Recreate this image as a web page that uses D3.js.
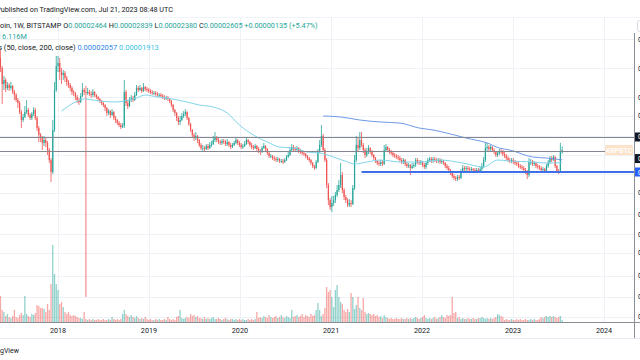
<!DOCTYPE html>
<html><head><meta charset="utf-8">
<script src="https://cdn.jsdelivr.net/npm/d3@7"></script>
<style>html,body{margin:0;padding:0;background:#fff;overflow:hidden}svg{display:block}</style>
</head><body><svg id="c" width="640" height="360"></svg>
<script>
// ---------- DATA (prices in satoshis = 1e-8 BTC, volume in millions) ----------
const firstWeek = "2017-05-15";
const firstOpen = 24220;
const closes = [
19010,12890,14210,11710,12590,11710,12290,10620,9880,8750,
8140,6540,5390,5800,6540,6870,6085,5660,6230,6870,
5660,4440,3746,3480,3090,3319,3090,2605,2044,1528,
4230,11150,19960,21460,17250,16050,16840,14920,13540,12590,
11710,10620,10370,9410,8750,8340,9640,11150,10620,10370,
10620,10120,9880,10620,9880,9410,8970,8540,8140,7750,
7210,6390,6700,6085,6540,5660,5390,5010,4775,4550,
4660,10620,8140,7560,8750,9190,8750,9880,11710,11150,
11710,10880,11990,11420,11150,10880,10620,10370,10370,10120,
9880,9880,9640,9410,9190,9190,8970,8540,7750,6870,
6390,5660,5130,5390,5940,6230,6540,5660,4890,4230,
3746,3480,3660,3319,2940,2730,2730,2670,2870,2730,
2940,3010,3319,3480,3319,3160,3090,3240,3160,3010,
3160,2940,2800,2940,3090,3319,3090,2940,2800,2870,
3010,3319,3160,2940,2800,2730,2870,2670,2540,2480,
2730,2870,2670,2420,2250,2250,2145,2095,2044,2095,
1995,1995,1947,2044,2200,2307,2605,2800,2670,2605,
2730,2540,2480,2420,2360,2250,2145,2044,1900,1768,
1684,1947,2480,2940,3660,2605,2044,1115,775,654,
721,775,875,988,1115,1421,988,833,775,686,
721,703,1037,2044,2940,2730,3319,2940,2605,2307,
2480,2730,2480,2307,2145,1995,1900,1855,1947,1855,
2605,2800,2605,2480,2420,2307,2250,2200,2145,2044,
1947,2044,1855,1768,1811,1684,1768,1811,2044,1947,
1900,1947,1811,1725,1900,2044,2095,1995,2095,2044,
1995,2044,1947,1995,1900,1768,1684,1604,1491,1387,
1321,1290,1354,1321,1528,1684,1643,1684,1643,1604,
1643,1604,1566,1604,1566,1643,1768,2044,2730,2800,
2670,2800,2605,2480,2307,2420,2540,2480,2360,2250,
2145,2044,1995,2044,1947,1900,1855,1768,1725,1684,
1604,1528,1421,1947,1947,1855,1900,1768,1725,1684,
1604,1643,1566,1768,1947,2145,2044,2200,1768,1566,
1528,2464,2605];
const highs = [
29400,19960,15660,14920,13540,13210,13540,12590,11150,10370,
9190,8540,6870,6230,7560,8750,7210,6390,6540,7380,
7210,5940,4660,3930,3660,3660,3480,3240,2730,2145,
5390,13540,25420,25420,24220,19010,18110,17680,15660,14210,
13210,12290,11150,10620,9880,9190,10370,13210,11710,12290,
11710,11150,10880,11420,10880,10120,9640,9190,8750,8340,
7940,7380,7030,6870,7030,6700,5940,5520,5260,5010,
5010,14210,11150,8750,9410,9880,9640,10620,12590,12290,
12590,11990,13210,12290,11990,11710,11420,11150,10880,10880,
10620,10370,10370,10120,9880,9640,9640,9190,8750,7940,
7030,6540,5940,5940,6390,6700,7030,6700,5800,5010,
4330,3930,4030,3746,3400,3090,2940,2870,3010,3010,
3160,3240,3660,4030,3660,3480,3319,3400,3400,3319,
3400,3240,3090,3090,3240,3570,3400,3240,3090,3010,
3240,3570,3400,3240,3090,2940,3010,2940,2800,2670,
2870,3090,2940,2730,2480,2360,2307,2250,2200,2200,
2145,2095,2095,2145,2307,2480,2800,3010,2940,2800,
2870,2800,2670,2605,2540,2420,2307,2200,2095,1947,
1811,2044,2670,3319,4775,3840,2730,2145,1170,813,
854,854,941,1115,1259,1900,1528,1037,875,813,
794,775,1115,2307,3660,3480,4030,4030,3090,2730,
2730,2940,2800,2605,2360,2200,2044,1995,2044,2044,
2940,3010,2870,2730,2605,2540,2420,2360,2307,2250,
2145,2145,2095,1947,1900,1855,1900,1900,2145,2145,
2044,2044,1995,1900,1995,2145,2200,2200,2200,2200,
2145,2145,2145,2095,2044,1947,1855,1768,1643,1528,
1456,1387,1421,1421,1643,1811,1768,1768,1768,1725,
1725,1684,1684,1684,1684,1725,1900,2200,3090,3090,
2940,2940,2870,2730,2540,2540,2670,2670,2605,2480,
2360,2250,2145,2145,2145,2044,1995,1947,1855,1811,
1768,1684,1604,2145,2095,2044,1995,1947,1855,1811,
1768,1725,1684,1855,2044,2250,2250,2307,2250,1811,
1643,3100,2839];
const lows = [
17250,7940,11150,10620,11150,10880,11150,10120,8750,8340,
7210,6230,4440,5130,5660,6230,5800,5390,5390,5940,
5390,4130,3160,3160,2605,2870,2800,2307,1900,1199,
1456,4030,10620,17250,14210,12890,14210,13540,12290,11710,
10880,9880,9640,8750,8140,7750,8140,9410,9880,74,
9880,9640,9190,9410,9410,8970,8540,8140,7750,7380,
6700,5940,6085,5660,5940,5390,5010,4775,4550,4330,
4440,4440,7560,7030,7380,8340,8340,8540,9640,10620,
10880,10370,10620,10880,10620,10370,10120,9880,9880,9640,
9410,9410,9190,8970,8750,8750,8540,8140,7380,6540,
5940,5260,4775,4775,5260,5660,5940,5390,4660,4030,
3480,3240,3319,3090,2800,2605,2540,2540,2605,2605,
2670,2800,2940,3160,3160,3010,2940,2940,3010,2870,
2870,2800,2670,2730,2870,3010,2940,2800,2670,2670,
2800,2940,3010,2800,2670,2605,2670,2540,2420,2307,
2420,2670,2540,2307,2145,2145,2044,1995,1947,1947,
1900,1900,1855,1900,1995,2145,2250,2540,2540,2480,
2540,2420,2360,2307,2250,2145,2044,1947,1811,1684,
1604,1643,1900,2420,2800,2480,1947,1037,686,608,
579,670,721,833,941,1037,918,775,721,654,
654,654,686,988,1947,2480,2605,2800,2420,2145,
2200,2360,2360,2200,2044,1900,1811,1768,1768,1768,
1811,2480,2480,2360,2307,2200,2145,2095,2044,1947,
1855,1855,1768,1684,1684,1421,1643,1684,1725,1855,
1811,1811,1725,1643,1643,1811,1947,1900,1900,1947,
1900,1900,1855,1855,1811,1684,1604,1528,1421,1321,
1259,1229,1229,1259,1290,1491,1566,1566,1566,1528,
1528,1528,1491,1491,1491,1491,1566,1684,1947,2540,
2540,2540,2480,2360,2200,2200,2307,2360,2250,2145,
2044,1947,1900,1900,1855,1811,1768,1684,1643,1604,
1528,1456,1290,1354,1811,1768,1768,1684,1643,1604,
1528,1528,1491,1528,1684,1855,1947,1995,1684,1491,
1456,1500,2380];
const volumes = [
78,36,30,18,24,15,12,18,36,15, 12,21,27,21,78,24,18,15,24,21,
27,51,48,42,42,39,30,54,36,114, 231,144,114,96,54,60,45,30,24,30,
21,18,21,18,15,12,12,9,30,9, 6,9,6,9,6,6,9,6,6,9,
6,6,9,6,15,9,6,9,6,9, 24,36,24,18,15,21,15,12,18,12,
9,12,9,15,9,6,9,6,6,9, 6,9,6,6,9,6,15,9,6,9,
6,15,18,36,12,9,12,15,12,24, 18,21,15,18,12,12,9,15,9,12,
9,12,15,9,9,12,9,6,9,12, 9,6,9,9,6,9,6,9,6,9,
6,6,9,6,9,6,9,30,12,15, 12,18,15,12,21,15,12,15,18,12,
15,21,15,12,18,15,12,36,15,18, 21,15,18,24,15,21,18,15,24,18,
21,36,57,36,18,24,42,105,90,96, 75,45,96,111,75,60,54,36,30,39,
30,87,75,39,51,75,42,36,72,30, 24,27,24,21,24,18,21,15,18,12,
21,15,12,9,12,9,9,12,9,9, 12,9,9,12,9,12,9,12,15,12,
9,12,15,21,12,9,12,9,12,15, 9,12,15,21,15,12,21,18,21,75,
27,30,12,15,9,12,9,9,12,9, 9,12,9,9,12,12,15,12,9,12,
9,12,9,12,15,24,21,18,15,6, 9,6,6,9,6,6,9,6,9,6,
6,9,6,6,9,6,9,6,6,9, 15,12,15,18,15,18,15,18,15,12,
15,18,6.116];
// moving averages (week index, value)
const ma50Idx = [35,43,48,57,66,71,78,83,90,95,107,114,122,130,137,145,153,160,168,176,183,191,199,203,210,218,229,240,252,265,277,285,292,305,313,322];
const ma50Val = [6700,8340,8970,8540,8340,8540,9190,9880,9410,9190,8340,7750,7380,6390,4775,3746,3160,2800,2730,2480,2420,2200,1947,1855,1947,2044,1947,1947,2044,1900,1725,2044,1995,1947,1900,1913];
const ma200Idx = [185,195,206,218,229,240,248,258,267,279,286,292,305,313,322];
const ma200Val = [5940,5800,5390,5130,5010,4440,4230,3840,3480,3090,2730,2605,2200,2145,2057];
// drawn levels
const greyLevels = [3570, 2570];
const supportLevel = 1528;
const supportFrom = "2021-05-03";
// axes
const yearTicks = ["2018","2019","2020","2021","2022","2023","2024"];
const priceTicks = [38000,19000,9400,6000,3700,2300,1450,920,550,340,215,123,74,46];
// legend texts
const titleText = "Published on TradingView.com, Jul 21, 2023 08:48 UTC";
const ohlcPieces = [["XRP / Bitcoin, 1W, BITSTAMP ","d"],["O","d"],["0.00002464 ","g"],["H","d"],["0.00002839 ","g"],["L","d"],["0.00002380 ","g"],["C","d"],["0.00002605 ","g"],["+0.00000135 (+5.47%)","g"]];
const volPieces = [["Vol ","d"],["6.116M","g"]];
const maPieces = [["MA Cross (50, close, 200, close) ","d"],["0.00002057 ","b"],["0.00001913","c"]];

// ---------- RENDER ----------
const FONT = "Roboto, 'Noto Sans', sans-serif";
const COL = {d:"#131722", g:"#26a69a", b:"#2f86e8", c:"#3cc3e3"};
const UP = "#26a69a", DOWN = "#ef5350";
const W = 640, H = 360, PR = 634, PT = 17, PB = 322;

const svg = d3.select("#c");
const parse = d3.utcParse("%Y-%m-%d");
const t0 = parse(firstWeek);
const n = Math.min(closes.length, highs.length, lows.length);
const data = d3.range(n).map(i => ({
  date: d3.utcDay.offset(t0, 7*i),
  o: i === 0 ? firstOpen : closes[i-1], c: closes[i], h: highs[i], l: lows[i],
  v: volumes[i] || 0
}));

const x = d3.scaleUtc().domain([parse("2018-01-01"), parse("2024-01-01")]).range([58, 604]);
const y = d3.scaleLog().domain([2605, 26050]).range([150, 55]);
const yv = d3.scaleLinear().domain([0, 300]).range([PB, PB - 100]);
const xi = i => x(d3.utcDay.offset(t0, 7*i));

svg.append("rect").attr("width", W).attr("height", H).attr("fill", "#fff");
const defs = svg.append("defs");
defs.append("clipPath").attr("id","plot").append("rect").attr("x",0).attr("y",PT).attr("width",PR).attr("height",PB-PT);

// grid
const grid = svg.append("g").attr("stroke", "#eef1f6").attr("stroke-width", 1);
grid.selectAll("line.h").data(priceTicks).join("line")
  .attr("x1", 0).attr("x2", PR).attr("y1", d => Math.round(y(d)) + 0.5).attr("y2", d => Math.round(y(d)) + 0.5);
grid.selectAll("line.v").data(yearTicks).join("line")
  .attr("x1", d => Math.round(x(parse(d + "-01-01"))) + 0.5).attr("x2", d => Math.round(x(parse(d + "-01-01"))) + 0.5)
  .attr("y1", PT).attr("y2", PB);
svg.append("line").attr("x1",0).attr("x2",W).attr("y1",PT+0.5).attr("y2",PT+0.5).attr("stroke","#f0f3fa");

const plot = svg.append("g").attr("clip-path","url(#plot)");

// volume
plot.append("g").selectAll("rect").data(data).join("rect")
  .attr("x", d => x(d.date) - 0.65).attr("width", 1.3)
  .attr("y", d => yv(d.v)).attr("height", d => Math.max(0.6, PB - yv(d.v)))
  .attr("fill", d => d.c >= d.o ? "rgba(38,166,154,0.5)" : "rgba(239,83,80,0.5)");

// candles
const cg = plot.append("g");
cg.selectAll("line").data(data).join("line")
  .attr("x1", d => x(d.date)).attr("x2", d => x(d.date))
  .attr("y1", d => y(Math.max(d.h, d.o, d.c))).attr("y2", d => y(Math.min(d.l, d.o, d.c)))
  .attr("stroke", d => d.c >= d.o ? UP : DOWN).attr("stroke-width", 0.8);
cg.selectAll("rect").data(data).join("rect")
  .attr("x", d => x(d.date) - 0.6).attr("width", 1.2)
  .attr("y", d => y(Math.max(d.o, d.c))).attr("height", d => Math.max(0.8, Math.abs(y(d.o) - y(d.c))))
  .attr("fill", d => d.c >= d.o ? UP : DOWN);

// moving averages
const lineGen = d3.line().curve(d3.curveMonotoneX);
plot.append("path").attr("d", lineGen(ma50Idx.map((k, j) => [xi(k), y(ma50Val[j])])))
  .attr("fill","none").attr("stroke","#7fd5ea").attr("stroke-width",1);
plot.append("path").attr("d", lineGen(ma200Idx.map((k, j) => [xi(k), y(ma200Val[j])])))
  .attr("fill","none").attr("stroke","#6e9ae6").attr("stroke-width",1);

// drawn horizontal lines
plot.append("line").attr("x1",0).attr("x2",PR).attr("y1",Math.round(y(greyLevels[0]))+0.5).attr("y2",Math.round(y(greyLevels[0]))+0.5)
  .attr("stroke","#83868f").attr("stroke-width",1);
plot.append("line").attr("x1",0).attr("x2",605).attr("y1",Math.round(y(greyLevels[1]))+0.5).attr("y2",Math.round(y(greyLevels[1]))+0.5)
  .attr("stroke","#83868f").attr("stroke-width",1);
plot.append("line").attr("x1",x(parse(supportFrom))).attr("x2",PR).attr("y1",y(supportLevel)).attr("y2",y(supportLevel))
  .attr("stroke","#3f6fe6").attr("stroke-width",2);

// symbol label
const ly = y(greyLevels[1]);
svg.append("rect").attr("x",605).attr("y",ly-5.5).attr("width",28).attr("height",10).attr("rx",1.5).attr("fill","#fbe2c8");
svg.append("text").attr("x",619).attr("y",ly+2.5).attr("text-anchor","middle").attr("font-family",FONT)
  .attr("font-size",7).attr("font-weight",600).attr("fill","#fff").text("XRPBTC");

// axes
svg.append("line").attr("x1",0).attr("x2",W).attr("y1",PB+0.5).attr("y2",PB+0.5).attr("stroke","#8b8e97");
svg.append("line").attr("x1",PR+0.5).attr("x2",PR+0.5).attr("y1",33).attr("y2",338).attr("stroke","#8b8e97");
svg.append("line").attr("x1",0).attr("x2",W).attr("y1",338.5).attr("y2",338.5).attr("stroke","#e6e9ef");
svg.append("rect").attr("x",637.5).attr("y",20.5).attr("width",20).attr("height",11).attr("rx",2).attr("fill","none").attr("stroke","#d5d8df");

// price labels on axis (boxes hide the regular tick labels they cover)
const axLab = [[greyLevels[0], "#131722", 0], [greyLevels[1], "#131722", 8], [supportLevel, "#2962ff", 0]];
const boxYs = axLab.map(([p, , off]) => y(p) + off);
const visTicks = priceTicks.filter(d => boxYs.every(b => Math.abs(y(d) - b) > 9));

svg.append("g").selectAll("text").data(visTicks).join("text")
  .attr("x", 638).attr("y", d => y(d) + 2.5).attr("font-family", FONT).attr("font-size", 7).attr("fill", "#131722")
  .text(d => (d / 1e8).toFixed(8));

axLab.forEach(([p, col, off]) => {
  const yy = y(p) + off;
  svg.append("rect").attr("x",635).attr("y",yy-4.5).attr("width",14).attr("height",9).attr("fill",col);
  svg.append("text").attr("x",638).attr("y",yy+2.5).attr("font-family",FONT).attr("font-size",7).attr("fill","#fff").text((p/1e8).toFixed(8));
});

svg.append("g").selectAll("text").data(yearTicks).join("text")
  .attr("x", d => x(parse(d + "-01-01"))).attr("y", 332.5).attr("text-anchor","middle")
  .attr("font-family", FONT).attr("font-size", 7.2).attr("fill", "#131722").text(d => d);

// legend text helpers
const tmp = svg.append("text").attr("font-family", FONT).attr("visibility","hidden");
function tw(s, fs) { tmp.attr("font-size", fs).text(s); return tmp.node().getComputedTextLength(); }
function legend(pieces, visibleFrom, x0, x1, baseline, fsFixed) {
  const full = pieces.map(p => p[0]).join("");
  const k = full.indexOf(visibleFrom);
  const fs = fsFixed || 10 * (x1 - x0) / tw(full.slice(k), 10);
  const start = x0 - tw(full.slice(0, k), fs);
  const t = svg.append("text").attr("x", start).attr("y", baseline).attr("font-family", FONT).attr("font-size", fs).attr("xml:space","preserve");
  pieces.forEach(p => t.append("tspan").attr("fill", COL[p[1]]).text(p[0]));
  return fs;
}
legend([[titleText,"d"]], "ublished", 0.7, 173, 12);
const fs2 = legend(ohlcPieces, "oin,", 0, 318, 28);
legend(volPieces, "6.116M", 0.3, 23, 38.5, fs2);
legend(maPieces, "(50", 2, 157, 49.5);
legend([["TradingView","d"]], "gView", 0, 19, 353);
tmp.remove();
</script>
</body></html>
